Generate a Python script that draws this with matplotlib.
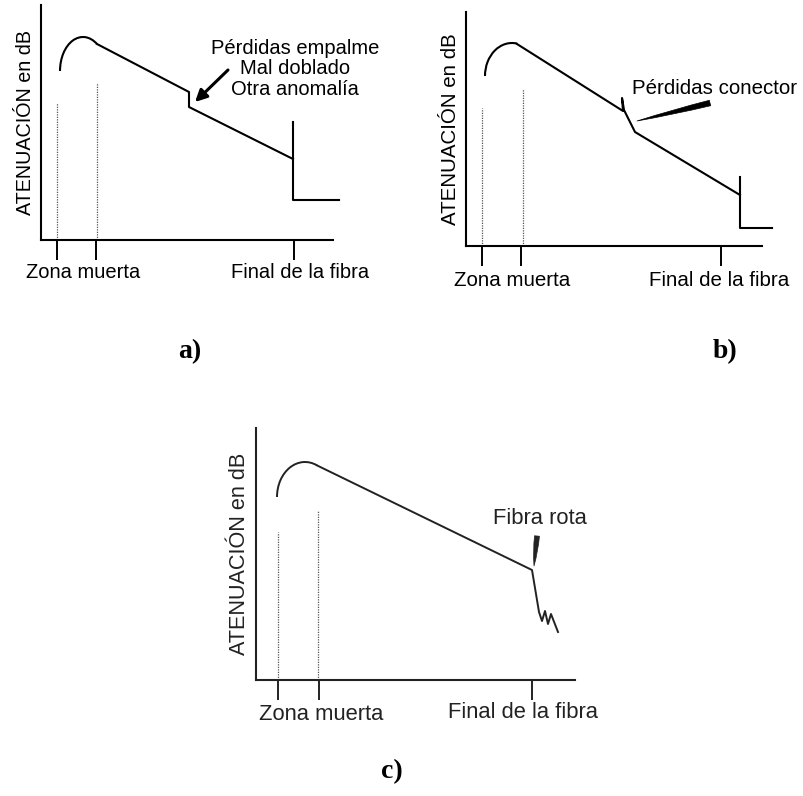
import matplotlib.pyplot as plt
from matplotlib.patches import Arc

plt.rcParams['font.family'] = ['Liberation Sans', 'DejaVu Sans']

W, H = 804, 796

# traces, in pixel-sized units from each panel's origin
# a) splice / bend loss
arc_a = (42, 169, 46, 68, 62.6, 180)    # centre x, centre y, width, height, theta1, theta2
trace_a_x = [56, 148, 148, 252]
trace_a_y = [196, 148, 133, 81]
end_a_x = [252, 252, 298]
end_a_y = [118, 40, 40]
ticks_a = [16, 55, 253]
dead_a_x = [16, 56]
dead_a_top = [137, 157]

# b) connector loss
arc_b = (46, 170, 54, 66, 81, 180)
trace_b_x = [51, 157, 156, 158, 169, 274]
trace_b_y = [202, 135, 148, 136, 114, 51]
end_b_x = [274, 274, 306]
end_b_y = [69, 18, 18]
ticks_b = [16, 55, 255]
dead_b_x = [16, 57]
dead_b_top = [138, 157]

# c) broken fibre
arc_c = (49, 183, 56, 70, 69.2, 180)
trace_c_x = [61, 276, 283, 286, 289, 292, 295, 302]
trace_c_y = [214.6, 110, 68, 59, 69, 56, 66, 48]
ticks_c = [22, 63, 276]
dead_c_x = [22, 62]
dead_c_top = [148, 170]

ylab = 'ATENUACIÓN en dB'

fig = plt.figure(figsize=(W / 100, H / 100), dpi=100)


def panel(left, base, w, h, ticks, dead_x, dead_top, col):
    ax = fig.add_axes([left / W, 1 - base / H, w / W, h / H])
    ax.set_xlim(0, w)
    ax.set_ylim(0, h)
    ax.patch.set_alpha(0)
    for s in ['top', 'right']:
        ax.spines[s].set_visible(False)
    for s in ['left', 'bottom']:
        ax.spines[s].set_linewidth(1.5)
        ax.spines[s].set_color(col)
    ax.set_yticks([])
    ax.set_xticks(ticks)
    ax.tick_params(axis='x', direction='out', length=14.5, width=1.4,
                   color=col, labelbottom=False)
    for x, t in zip(dead_x, dead_top):
        ax.plot([x, x], [0, t], color='#555555', lw=0.9, ls=(0, (1, 1)))
    return ax


def add_arc(ax, a, col, lw):
    ax.add_patch(Arc((a[0], a[1]), a[2], a[3], theta1=a[4], theta2=a[5],
                     color=col, lw=lw, clip_on=False))


# ---- a)
ax = panel(41, 240, 292, 235, ticks_a, dead_a_x, dead_a_top, 'k')
add_arc(ax, arc_a, 'k', 1.5)
ax.plot(trace_a_x, trace_a_y, color='k', lw=1.5, clip_on=False)
ax.plot(end_a_x, end_a_y, color='k', lw=1.5, clip_on=False)
ax.set_ylabel(ylab, fontsize=14.2, labelpad=4)
ax.text(42, -33, 'Zona muerta', ha='center', va='center', fontsize=14.5, clip_on=False)
ax.text(259, -33, 'Final de la fibra', ha='center', va='center', fontsize=14.5, clip_on=False)
ax.text(254, 171, 'Pérdidas empalme\nMal doblado\nOtra anomalía', ha='center',
        va='center', multialignment='center', fontsize=14.5, linespacing=1.1, clip_on=False)
ax.annotate('', xy=(154, 138), xytext=(187, 170),
            arrowprops=dict(arrowstyle='-|>,head_length=0.5,head_width=0.25',
                            lw=2.2, color='k', shrinkA=0, shrinkB=0, mutation_scale=14))

# ---- b)
ax = panel(466, 246, 296, 234, ticks_b, dead_b_x, dead_b_top, 'k')
add_arc(ax, arc_b, 'k', 1.5)
ax.plot(trace_b_x, trace_b_y, color='k', lw=1.5, clip_on=False)
ax.plot(end_b_x, end_b_y, color='k', lw=1.5, clip_on=False)
ax.set_ylabel(ylab, fontsize=14.8, labelpad=4)
ax.text(46, -34, 'Zona muerta', ha='center', va='center', fontsize=14.8, clip_on=False)
ax.text(253, -34, 'Final de la fibra', ha='center', va='center', fontsize=14.8, clip_on=False)
ax.text(249, 158, 'Pérdidas conector', ha='center', va='center', fontsize=14.8, clip_on=False)
ax.annotate('', xy=(171, 125), xytext=(244, 143),
            arrowprops=dict(arrowstyle='wedge,tail_width=0.25,shrink_factor=0.7',
                            color='k', lw=0.5, shrinkA=0, shrinkB=0, mutation_scale=16))

# ---- c)
gc = '#222222'
ax = panel(256, 680, 319, 252, ticks_c, dead_c_x, dead_c_top, gc)
add_arc(ax, arc_c, gc, 1.4)
ax.plot(trace_c_x, trace_c_y, color=gc, lw=1.4, clip_on=False)
ax.set_ylabel(ylab, fontsize=15.6, labelpad=4, color=gc)
ax.text(65, -35, 'Zona muerta', ha='center', va='center', fontsize=15.8, color=gc, clip_on=False)
ax.text(267, -32, 'Final de la fibra', ha='center', va='center', fontsize=15.8, color=gc, clip_on=False)
ax.text(284, 162, 'Fibra rota', ha='center', va='center', fontsize=15.8, color=gc, clip_on=False)
ax.annotate('', xy=(278, 114), xytext=(281, 144),
            arrowprops=dict(arrowstyle='wedge,tail_width=0.22,shrink_factor=0.8',
                            color=gc, lw=0.5, shrinkA=0, shrinkB=0, mutation_scale=16))

# panel letters
for lx, ly, s in [(190, 352, 'a)'), (725, 352, 'b)'), (392, 772, 'c)')]:
    fig.text(lx / W, 1 - ly / H, s, ha='center', va='center', fontsize=20,
             fontweight='bold', family='Liberation Serif')

fig.savefig('out.png', dpi=100)
